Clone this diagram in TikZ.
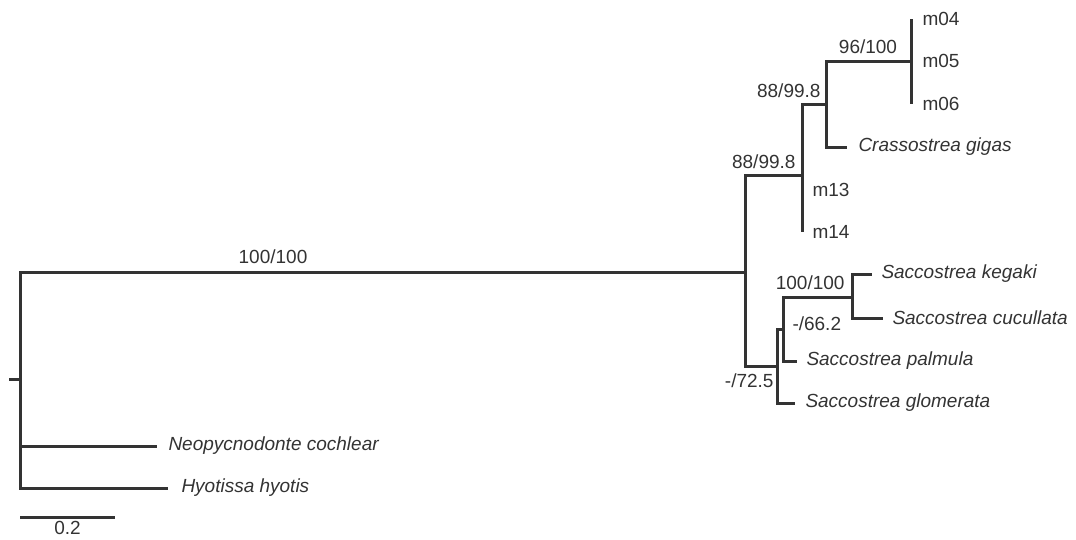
\documentclass[tikz,border=0pt]{standalone}
\usepackage{fontspec}
\setmainfont{Liberation Sans}
\usetikzlibrary{positioning}
\definecolor{treegray}{HTML}{333333}

\begin{document}
\begin{tikzpicture}[x=1pt,y=-1pt,line width=3pt,color=treegray]
  \tikzstyle{leaf}=[inner sep=0pt,font=\fontsize{19}{22}\selectfont\itshape]
  \tikzstyle{clone}=[inner sep=0pt,font=\fontsize{19}{22}\selectfont]
  \tikzstyle{sup}=[inner sep=0pt,font=\fontsize{19}{22}\selectfont]
  \useasboundingbox (0,0) rectangle (1076,539);
  \coordinate (stub) at (9,379);
  \coordinate (root) at (20,379);
  \coordinate (ing) at (745,272);
  \coordinate (neo) at (157,446);
  \coordinate (hyo) at (168,488);
  \coordinate (crA) at (802,175);
  \coordinate (crB) at (826,104);
  \coordinate (mcl) at (911,61);
  \coordinate (m04) at (911,19);
  \coordinate (m06) at (911,104);
  \coordinate (gig) at (847,147);
  \coordinate (m13) at (802,190);
  \coordinate (m14) at (802,232);
  \coordinate (sac) at (777,366);
  \coordinate (sacA) at (783,329);
  \coordinate (sacB) at (852,297);
  \coordinate (keg) at (872,274);
  \coordinate (cuc) at (883,318);
  \coordinate (pal) at (797,361);
  \coordinate (glo) at (795,403);
  \coordinate (sb1) at (20,517);
  \coordinate (sb2) at (115,517);

  \draw (stub) -- (root);
  \draw (root) |- (ing);
  \draw (root) |- (neo);
  \draw (root) |- (hyo);
  \draw (ing) |- (crA);
  \draw (ing) |- (sac);
  \draw (crA) |- (crB);
  \draw (crA) -- (m14);
  \draw (crB) |- (mcl);
  \draw (crB) |- (gig);
  \draw (m04) -- (m06);
  \draw (sac) |- (sacA);
  \draw (sac) |- (glo);
  \draw (sacA) |- (sacB);
  \draw (sacA) |- (pal);
  \draw (sacB) |- (keg);
  \draw (sacB) |- (cuc);
  \draw (sb1) -- (sb2);

  \node[clone,right=10pt of m04] (m04T) {m04};
  \node[clone,right=10pt of mcl] (m05T) {m05};
  \node[clone,right=10pt of m06] (m06T) {m06};
  \node[leaf,right=10pt of gig] (gigT) {Crassostrea gigas};
  \node[clone,right=9pt of m13] (m13T) {m13};
  \node[clone,right=9pt of m14] (m14T) {m14};
  \node[leaf,right=8pt of keg] (kegT) {Saccostrea kegaki};
  \node[leaf,right=8pt of cuc] (cucT) {Saccostrea cucullata};
  \node[leaf,right=8pt of pal] (palT) {Saccostrea palmula};
  \node[leaf,right=9pt of glo] (gloT) {Saccostrea glomerata};
  \node[leaf,right=10pt of neo] (neoT) {Neopycnodonte cochlear};
  \node[leaf,right=12pt of hyo] (hyoT) {Hyotissa hyotis};

  \node[sup,anchor=south] (b0) at (273,265) {100/100};
  \node[sup,anchor=south] (b1) at (868,55) {96/100};
  \node[sup,anchor=south east] (b2) at (822,99) {88/99.8};
  \node[sup,anchor=south east] (b3) at (797,170) {88/99.8};
  \node[sup,anchor=south east] (b4) at (846,291) {100/100};
  \node[sup,anchor=south west] (b5) at (791,332) {-/66.2};
  \node[sup,anchor=south east] (b6) at (775,389) {-/72.5};
  \path (sb1) -- node[sup,below=3pt] (sbT) {0.2} (sb2);
\end{tikzpicture}
\end{document}
